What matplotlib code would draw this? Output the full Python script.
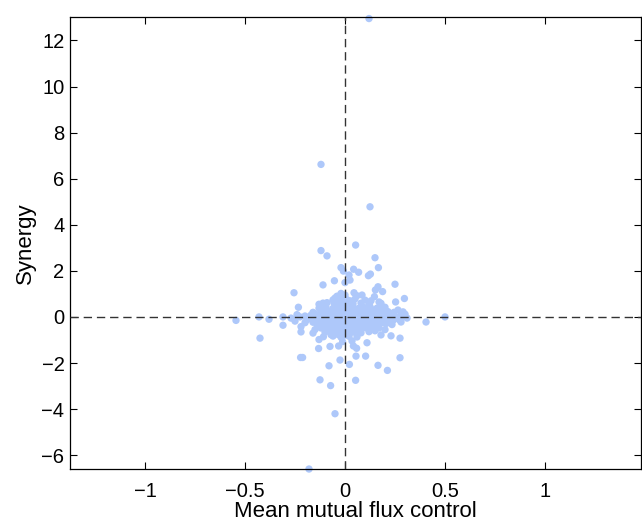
import numpy as np
import matplotlib
matplotlib.use('Agg')
import matplotlib.pyplot as plt

plt.rcParams['font.family'] = ['Liberation Sans', 'DejaVu Sans']

# Scattered points away from the dense centre (mean mutual flux control, synergy)
outer_points = [
    (0.12, 12.95), (-0.18, -6.6), (-0.12, 6.62), (0.125, 4.78), (0.053, 3.12),
    (-0.12, 2.88), (-0.09, 2.65), (0.15, 2.57), (-0.02, 2.14), (-0.008, 1.99),
    (0.167, 2.14), (0.043, 2.07), (0.068, 1.94), (0.02, 1.82), (0.117, 1.79),
    (0.127, 1.86), (0.025, 1.6), (-0.053, 1.57), (0.0, 1.49), (-0.11, 1.39),
    (0.25, 1.42), (0.165, 1.31), (0.152, 1.17), (0.188, 1.1), (-0.255, 1.05),
    (0.045, 1.05), (0.085, 0.95), (0.147, 0.88), (0.253, 0.65), (0.297, 0.8),
    (-0.233, 0.42), (-0.43, 0.0), (-0.38, -0.1), (-0.31, 0.0), (-0.545, -0.15),
    (-0.425, -0.92), (-0.31, -0.36), (-0.22, -0.42), (-0.22, -0.65), (0.405, -0.22),
    (0.5, 0.0), (0.18, -0.78), (0.23, -0.82), (0.275, -0.92), (0.11, -1.12),
    (0.035, -1.04), (-0.13, -0.98), (-0.108, -0.86), (-0.075, -1.28), (-0.032, -1.26),
    (-0.012, -1.07), (-0.132, -1.37), (0.042, -1.26), (0.058, -1.36), (0.055, -1.7),
    (0.103, -1.7), (-0.222, -1.76), (-0.212, -1.76), (0.275, -1.77), (-0.025, -1.87),
    (0.022, -2.06), (-0.08, -2.12), (0.165, -2.1), (0.212, -2.32), (-0.125, -2.73),
    (0.053, -2.75), (-0.072, -2.98), (-0.05, -4.2),
]

# Dense cloud around the origin
core_points = [
    (-0.20, 0.04), (-0.17, 0.08), (-0.14, 0.02), (-0.11, 0.07), (-0.08, 0.03),
    (-0.05, 0.09), (-0.02, 0.01), (0.01, 0.06), (0.04, 0.1), (0.07, 0.02),
    (0.10, 0.07), (0.13, 0.04), (0.16, 0.09), (0.19, 0.03), (0.22, 0.06),
    (0.25, 0.01), (0.28, 0.08),
    (-0.175, -0.03), (-0.125, -0.05), (-0.095, -0.01), (-0.065, -0.04), (-0.035, -0.02),
    (0.015, -0.05), (0.045, -0.01), (0.085, -0.04), (0.115, -0.02), (0.145, -0.05),
    (0.175, -0.01), (0.205, -0.04), (0.235, -0.02), (0.265, -0.05),
    (-0.19, -0.12), (-0.155, -0.17), (-0.12, -0.1), (-0.09, -0.15), (-0.06, -0.11),
    (-0.03, -0.18), (0.0, -0.13), (0.03, -0.09), (0.06, -0.16), (0.09, -0.12),
    (0.12, -0.17), (0.15, -0.1), (0.18, -0.14), (0.21, -0.09), (0.24, -0.15),
    (0.27, -0.11),
    (-0.15, 0.13), (-0.1, 0.15), (-0.065, 0.12), (-0.03, 0.16), (0.0, 0.14),
    (0.035, 0.17), (0.065, 0.12), (0.11, 0.14), (0.14, 0.16), (0.2, 0.13),
    (0.235, 0.12),
    (-0.16, 0.2), (-0.12, 0.25), (-0.085, 0.19), (-0.045, 0.24), (-0.01, 0.21),
    (0.025, 0.27), (0.055, 0.2), (0.09, 0.25), (0.12, 0.19), (0.155, 0.24),
    (0.185, 0.18), (0.215, 0.23), (0.245, 0.2),
    (-0.16, -0.23), (-0.11, -0.24), (-0.075, -0.21), (-0.045, -0.25), (-0.015, -0.22),
    (0.015, -0.24), (0.045, -0.21), (0.1, -0.23), (0.13, -0.25), (0.16, -0.22),
    (0.19, -0.24), (0.22, -0.21),
    (-0.1, 0.31), (-0.065, 0.29), (-0.03, 0.32), (0.01, 0.3), (0.045, 0.33),
    (0.075, 0.29), (0.11, 0.31), (0.14, 0.3), (0.18, 0.32),
    (-0.14, -0.3), (-0.105, -0.35), (-0.07, -0.29), (-0.04, -0.34), (-0.01, -0.3),
    (0.02, -0.36), (0.05, -0.31), (0.08, -0.28), (0.11, -0.34), (0.14, -0.3),
    (0.17, -0.35), (0.205, -0.29), (0.235, -0.33),
    (-0.13, 0.38), (-0.095, 0.43), (-0.06, 0.37), (-0.03, 0.44), (0.0, 0.39),
    (0.03, 0.42), (0.065, 0.36), (0.095, 0.41), (0.125, 0.45), (0.16, 0.38),
    (0.2, 0.42),
    (-0.09, -0.4), (-0.055, -0.42), (-0.025, -0.39), (0.03, -0.41), (0.06, -0.4),
    (0.09, -0.42), (0.12, -0.39), (0.155, -0.41),
    (-0.12, -0.48), (-0.085, -0.53), (-0.05, -0.47), (-0.02, -0.54), (0.01, -0.49),
    (0.04, -0.45), (0.07, -0.52), (0.1, -0.47), (0.13, -0.53), (0.17, -0.48),
    (-0.1, 0.56), (-0.055, 0.6), (-0.025, 0.55), (0.01, 0.62), (0.04, 0.57),
    (0.08, 0.6), (0.12, 0.55), (0.18, 0.59),
    (-0.08, -0.6), (-0.04, -0.58), (-0.01, -0.61), (0.03, -0.6), (0.06, -0.58),
    (-0.045, 0.66), (-0.01, 0.68), (0.025, 0.7),
    (-0.1, -0.66), (-0.06, -0.7), (-0.03, -0.64), (0.0, -0.71), (0.04, -0.66),
    (0.08, -0.69), (0.12, -0.64),
    (-0.06, 0.74), (-0.03, 0.79), (0.01, 0.75), (0.05, 0.78), (0.1, 0.73),
    (-0.07, -0.77), (-0.035, -0.76), (0.0, -0.79),
    (-0.06, -0.83), (-0.02, -0.88), (0.02, -0.84), (0.06, -0.87),
    (-0.05, 0.82), (-0.015, 0.86),
    (-0.04, 0.9), (0.0, 0.95), (0.06, 0.92), (-0.02, 1.02), (-0.035, 0.85),
    (-0.27, -0.05), (-0.24, 0.1), (-0.25, -0.18), (-0.225, 0.0), (-0.2, -0.25),
    (0.3, 0.12), (0.295, 0.03), (0.29, 0.22), (0.31, -0.05), (0.265, 0.3),
    (0.28, -0.22), (-0.13, 0.55), (-0.11, 0.6), (-0.09, 0.62), (0.15, -0.6),
    (0.2, -0.55), (-0.15, -0.55), (-0.16, -0.7), (0.17, 0.65), (0.13, 0.7),
]

xticks = [-1, -0.5, 0, 0.5, 1]
xticklabels = ['\u22121', '\u22120.5', '0', '0.5', '1']
yticks = [-6, -4, -2, 0, 2, 4, 6, 8, 10, 12]

pts = np.array(outer_points + core_points)

fig = plt.figure(figsize=(6.42, 5.22), dpi=100)
ax = fig.add_axes([0.109, 0.1015, 0.8895, 0.8665])

ax.scatter(pts[:, 0], pts[:, 1], s=28, color='#aec8fa', edgecolors='none',
           zorder=2, clip_on=False)

ax.axhline(0, color='0.2', lw=1.0, dashes=(6, 3.5), zorder=3)
ax.axvline(0, color='0.2', lw=1.0, dashes=(6, 3.5), zorder=3)

ax.set_xlim(-1.375, 1.48)
ax.set_ylim(-6.6, 13.03)
ax.set_xticks(xticks)
ax.set_xticklabels(xticklabels)
ax.set_yticks(yticks)

ax.tick_params(direction='in', top=True, right=True, length=5, width=0.8,
               labelsize=14.5)
ax.tick_params(axis='x', pad=9)
ax.tick_params(axis='y', pad=4)
for sp in ax.spines.values():
    sp.set_linewidth(0.9)

ax.set_xlabel('Mean mutual flux control', fontsize=16, labelpad=0)
ax.set_ylabel('Synergy', fontsize=16, labelpad=4)

fig.savefig('out.png', dpi=100)
